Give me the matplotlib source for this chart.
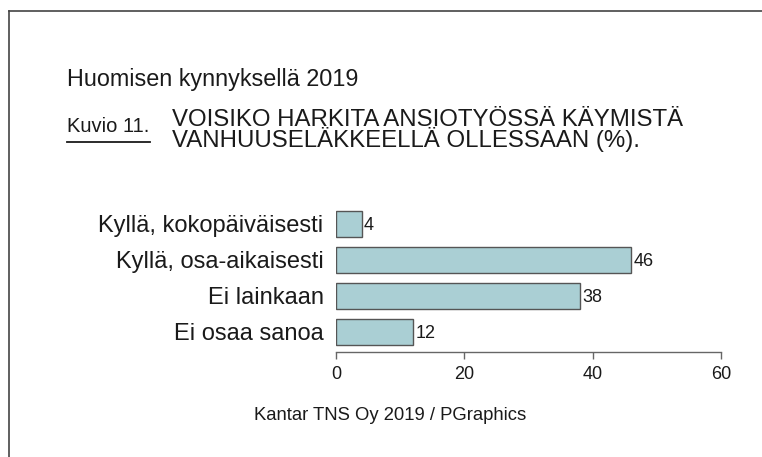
import numpy as np
import matplotlib.pyplot as plt
from matplotlib.lines import Line2D

plt.rcParams['font.family'] = ['Liberation Sans', 'DejaVu Sans']

# Data
categories = ['Kyllä, kokopäiväisesti', 'Kyllä, osa-aikaisesti', 'Ei lainkaan', 'Ei osaa sanoa']
values = [4, 46, 38, 12]
xticks = [0, 20, 40, 60]

W, H = 762, 457
fig = plt.figure(figsize=(W / 100, H / 100), dpi=100)


def fx(px):
    return px / W


def fy(py):
    return 1 - py / H


# frame lines (top and left)
fig.add_artist(Line2D([fx(9), 1.0], [fy(11), fy(11)], color='#444444', lw=1.2))
fig.add_artist(Line2D([fx(9), fx(9)], [0, fy(11)], color='#444444', lw=1.2))

fig.text(fx(67), fy(86), 'Huomisen kynnyksellä 2019', fontsize=16.8, va='baseline', ha='left', color='#1a1a1a')
fig.text(fx(67), fy(132), 'Kuvio 11.', fontsize=14.5, va='baseline', ha='left', color='#1a1a1a')
fig.add_artist(Line2D([fx(67), fx(150)], [fy(142), fy(142)], color='#1a1a1a', lw=1.3))
# multi-line title: va='baseline' aligns the last line
fig.text(fx(172), fy(147), 'VOISIKO HARKITA ANSIOTYÖSSÄ KÄYMISTÄ\nVANHUUSELÄKKEELLÄ OLLESSAAN (%).',
         fontsize=17.3, va='baseline', ha='left', linespacing=0.78, color='#1a1a1a')

ax = fig.add_axes([fx(336), fy(352), (721 - 336) / W, (352 - 206) / H])
y = np.arange(len(categories))
ax.barh(y, values, height=0.7, color='#aacfd4', edgecolor='#555555', linewidth=1.0)
ax.set_ylim(len(categories) - 0.5 + 0.056, -0.5)
ax.set_xlim(0, 60)
ax.set_yticks(y)
ax.set_yticklabels(categories, fontsize=17, color='#1a1a1a')
ax.tick_params(axis='y', length=0, pad=9)
ax.set_xticks(xticks)
ax.tick_params(axis='x', length=5, width=1.0, color='#666666', labelsize=13, pad=5, labelcolor='#1a1a1a')
for s in ['top', 'right', 'left']:
    ax.spines[s].set_visible(False)
ax.spines['bottom'].set_linewidth(1.0)
ax.spines['bottom'].set_color('#666666')
for yi, v in zip(y, values):
    ax.text(v + 0.35, yi + 0.05, str(v), va='center', ha='left', fontsize=13, color='#1a1a1a')

fig.text(fx(390), fy(420), 'Kantar TNS Oy 2019 / PGraphics', fontsize=13.3, va='baseline', ha='center',
         color='#1a1a1a')

plt.savefig('out.png', dpi=100)
